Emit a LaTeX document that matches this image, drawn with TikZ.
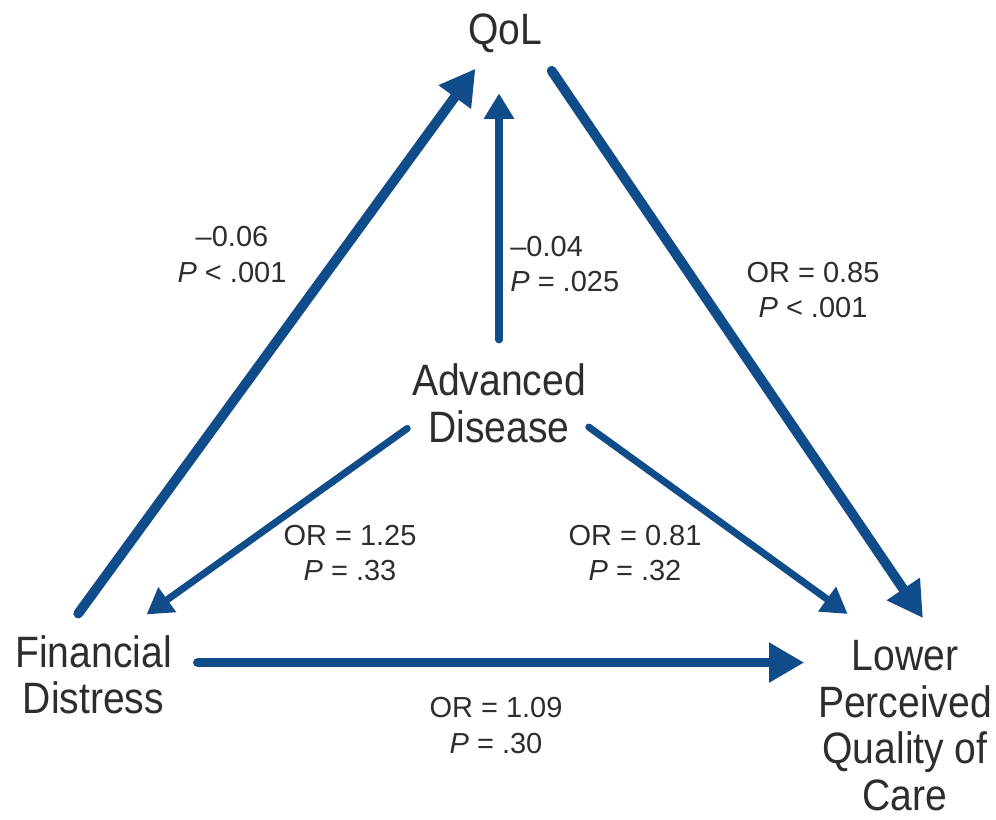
\documentclass[tikz,border=0pt]{standalone}
\usepackage{fontspec}
\setmainfont{Liberation Sans}
\newfontfamily\condfont[FakeStretch=0.89]{Liberation Sans}
\usepackage{xcolor}
\usetikzlibrary{arrows.meta}
\definecolor{pathblue}{RGB}{16,76,138}
\definecolor{inkgrey}{RGB}{45,45,45}

\begin{document}
\begin{tikzpicture}[x=0.02cm,y=-0.02cm,
  var/.style={align=center,inner sep=0pt,text=inkgrey,font=\condfont\fontsize{25}{26.5}\selectfont},
  est/.style={align=center,inner sep=0pt,text=inkgrey,font=\fontsize{16.5}{20.4}\selectfont},
  bigarr/.style={pathblue,line width=5.6pt,line cap=round,-{Triangle[length=20pt,width=21.5pt]}},
  arr/.style={pathblue,line width=4pt,line cap=round,-{Triangle[length=14.5pt,width=16.5pt]}}]
\useasboundingbox (0,0) rectangle (996,819);
\node[var,anchor=base] (qol) at (505,44) {QoL};
\node[var] (adv) at (499,403.5) {Advanced\\Disease};
\node[var] (fin) at (93.5,675) {Financial\\Distress};
\node[var] (low) at (905,725.5) {Lower\\Perceived\\Quality of\\Care};
\draw[bigarr,shorten <=15.3pt,shorten >=11.3pt] (fin.128)--(qol.228);
\draw[arr,shorten <=13.6pt,shorten >=23.2pt] (adv.north)--(adv.north |- qol.south);
\draw[bigarr,shorten <=12.5pt,shorten >=15.1pt] (qol.330)--(low.69);
\draw[arr,shorten <=3.1pt,shorten >=20.4pt] (adv.194)--(fin.59);
\draw[arr,shorten <=1.7pt,shorten >=25.3pt] (adv.346)--(low.104);
\draw[bigarr,shorten <=14.7pt,shorten >=7.7pt] (fin.9)--(fin.9 -| low.west);
\node[est] (finqol) at (232,254.5) {\textendash0.06\\\textit{P} < .001};
\node[est,align=left,anchor=west] (advqol) at (510,264) {\textendash0.04\\\textit{P} = .025};
\node[est] (qollow) at (813,290) {OR = 0.85\\\textit{P} < .001};
\node[est] (advfin) at (350,553) {OR = 1.25\\\textit{P} = .33};
\node[est] (advlow) at (635,553) {OR = 0.81\\\textit{P} = .32};
\node[est] (finlow) at (496,725.5) {OR = 1.09\\\textit{P} = .30};
\end{tikzpicture}
\end{document}
